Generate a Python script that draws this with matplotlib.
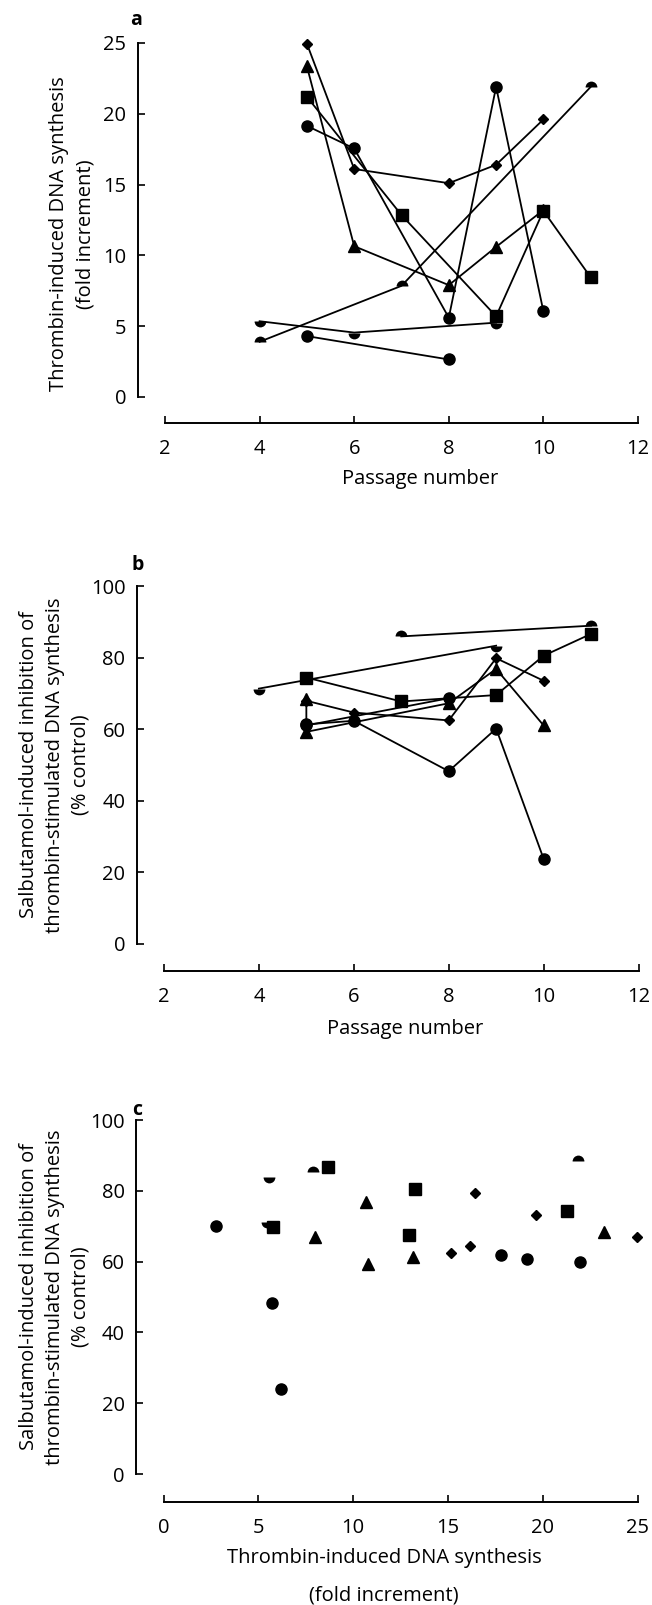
import matplotlib
matplotlib.use('Agg')
import matplotlib.pyplot as plt

plt.rcParams['font.family'] = ['Open Sans', 'DejaVu Sans']
plt.rcParams['font.size'] = 14.5

# ---- panel a: thrombin-induced DNA synthesis vs passage number ----
a_dia_x = [5, 6, 8, 9, 10]
a_dia_y = [24.95, 16.1, 15.1, 16.4, 19.6]
a_tri_x = [5, 6, 8, 9, 10]
a_tri_y = [23.35, 10.65, 7.9, 10.6, 13.2]
a_sq_x = [5, 7, 9, 10, 11]
a_sq_y = [21.2, 12.85, 5.7, 13.15, 8.45]
a_circ_x = [5, 6, 8, 9, 10]
a_circ_y = [19.15, 17.55, 5.6, 21.9, 6.05]
a_up_x = [4, 7, 11]
a_up_y = [3.9, 7.85, 21.9]
a_low_x = [4, 6, 9]
a_low_y = [5.35, 4.55, 5.25]
a_circ2_x = [5, 8]
a_circ2_y = [4.3, 2.65]

# ---- panel b: salbutamol inhibition vs passage number ----
b_dia_x = [5, 6, 8, 9, 10]
b_dia_y = [67.9, 64.6, 62.4, 79.8, 73.5]
b_tri_x = [5, 5, 8, 9, 10]
b_tri_y = [68.3, 59.2, 67.2, 76.8, 61.0]
b_sq_x = [5, 7, 9, 10, 11]
b_sq_y = [74.4, 67.7, 69.5, 80.5, 86.6]
b_circ_x = [5, 6, 8, 9, 10]
b_circ_y = [61.3, 62.3, 48.2, 60.1, 23.7]
b_up_x = [7, 11]
b_up_y = [85.9, 88.9]
b_low_x = [4, 9]
b_low_y = [71.3, 83.3]
b_circ2_x = [5, 8]
b_circ2_y = [61.0, 68.6]

# ---- panel c: inhibition vs thrombin response ----
c_circ_x = [2.78, 5.71, 6.2, 17.79, 19.19, 21.97]
c_circ_y = [70.0, 48.2, 24.1, 61.8, 60.75, 59.8]
c_up_x = [7.86, 21.85]
c_up_y = [85.4, 88.3]
c_low_x = [5.56, 5.44]
c_low_y = [84.0, 71.3]
c_sq_x = [8.66, 13.27, 12.97, 5.8, 21.27]
c_sq_y = [86.6, 80.5, 67.6, 69.7, 74.2]
c_tri_x = [8.0, 10.69, 10.77, 13.18, 23.25]
c_tri_y = [66.9, 76.7, 59.2, 61.2, 68.3]
c_dia_x = [15.15, 16.17, 16.45, 19.65, 24.96]
c_dia_y = [62.4, 64.3, 79.3, 73.2, 66.9]

W, H = 652, 1605
fig = plt.figure(figsize=(W / 100, H / 100), dpi=100)


def px_axes(left, top, right, bottom):
    return fig.add_axes([left / W, 1 - bottom / H, (right - left) / W, (bottom - top) / H])


def style(ax, xlim, ylim, xticks, yticks, drop):
    ax.set_xlim(xlim)
    ax.set_ylim(ylim)
    ax.spines['top'].set_visible(False)
    ax.spines['right'].set_visible(False)
    ax.spines['left'].set_position(('outward', 19.8))
    ax.spines['bottom'].set_position(('outward', drop))
    ax.spines['left'].set_bounds(*ylim)
    ax.spines['bottom'].set_bounds(*xlim)
    for s in ['left', 'bottom']:
        ax.spines[s].set_linewidth(1.4)
    ax.set_xticks(xticks)
    ax.set_yticks(yticks)
    ax.tick_params(axis='both', direction='in', length=5, width=1.2)
    ax.tick_params(axis='y', pad=8)
    ax.tick_params(axis='x', pad=11.5)
    ax.patch.set_visible(False)


line_kw = dict(color='black', linewidth=1.3, clip_on=False)
half_kw = dict(marker='o', markersize=8.5, markeredgewidth=0, markerfacecoloralt='none')


def draw_lines(ax, dia, tri, sq, circ, up, low, circ2, ls):
    ax.plot(*dia, marker='D', markersize=5.5, linestyle=ls, **line_kw)
    ax.plot(*tri, marker='^', markersize=8, linestyle=ls, **line_kw)
    ax.plot(*sq, marker='s', markersize=8, linestyle=ls, **line_kw)
    ax.plot(*circ, marker='o', markersize=8, linestyle=ls, **line_kw)
    ax.plot(*up, fillstyle='top', linestyle=ls, **half_kw, **line_kw)
    ax.plot(*low, fillstyle='bottom', linestyle=ls, **half_kw, **line_kw)
    ax.plot(*circ2, marker='o', markersize=8, linestyle=ls, **line_kw)


# panel a
ax_a = px_axes(165, 43, 638, 397)
draw_lines(ax_a, (a_dia_x, a_dia_y), (a_tri_x, a_tri_y), (a_sq_x, a_sq_y),
           (a_circ_x, a_circ_y), (a_up_x, a_up_y), (a_low_x, a_low_y),
           (a_circ2_x, a_circ2_y), '-')
style(ax_a, (2, 12), (0, 25), [2, 4, 6, 8, 10, 12], [0, 5, 10, 15, 20, 25], 18.7)

# panel b
ax_b = px_axes(164, 586, 638.5, 943.5)
draw_lines(ax_b, (b_dia_x, b_dia_y), (b_tri_x, b_tri_y), (b_sq_x, b_sq_y),
           (b_circ_x, b_circ_y), (b_up_x, b_up_y), (b_low_x, b_low_y),
           (b_circ2_x, b_circ2_y), '-')
style(ax_b, (2, 12), (0, 100), [2, 4, 6, 8, 10, 12], [0, 20, 40, 60, 80, 100], 20)

# panel c
ax_c = px_axes(163.5, 1120, 637.5, 1474)
draw_lines(ax_c, (c_dia_x, c_dia_y), (c_tri_x, c_tri_y), (c_sq_x, c_sq_y),
           (c_circ_x, c_circ_y), (c_up_x, c_up_y), (c_low_x, c_low_y),
           ([], []), 'none')
style(ax_c, (0, 25), (0, 100), [0, 5, 10, 15, 20, 25], [0, 20, 40, 60, 80, 100], 20)

# panel letters
fig.text(136 / W, 1 - 20 / H, 'a', ha='center', va='center', weight='bold', fontsize=14)
fig.text(138 / W, 1 - 565 / H, 'b', ha='center', va='center', weight='bold', fontsize=14)
fig.text(137 / W, 1 - 1110 / H, 'c', ha='center', va='center', weight='bold', fontsize=14)

# axis titles
fig.text(72 / W, 1 - 234 / H, 'Thrombin-induced DNA synthesis\n(fold increment)',
         rotation=90, ha='center', va='center', linespacing=1.4)
fig.text(420 / W, 1 - 479 / H, 'Passage number', ha='center', va='center')

fig.text(55 / W, 1 - 765 / H,
         'Salbutamol-induced inhibition of\nthrombin-stimulated DNA synthesis\n(% control)',
         rotation=90, ha='center', va='center', linespacing=1.38)
fig.text(405 / W, 1 - 1029 / H, 'Passage number', ha='center', va='center')

fig.text(55 / W, 1 - 1297 / H,
         'Salbutamol-induced inhibition of\nthrombin-stimulated DNA synthesis\n(% control)',
         rotation=90, ha='center', va='center', linespacing=1.38)
fig.text(384 / W, 1 - 1558 / H, 'Thrombin-induced DNA synthesis', ha='center', va='center')
fig.text(384 / W, 1 - 1595 / H, '(fold increment)', ha='center', va='center')

fig.savefig('out.png', dpi=100)
